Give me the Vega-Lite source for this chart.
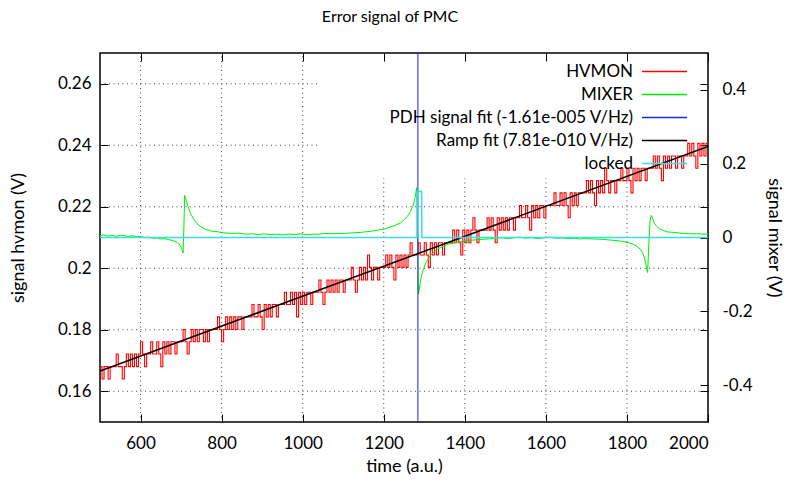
{
"$schema": "https://vega.github.io/schema/vega-lite/v6.json",
"width": 608, "height": 369,
"autosize": {"type": "none"},
"padding": {"left": 100, "top": 53, "right": 77, "bottom": 66},
"background": "white",
"title": {"text": "Error signal of PMC", "fontSize": 16, "fontWeight": "normal", "font": "Lato", "color": "#000", "anchor": "middle", "dx": -14, "offset": 28},
"config": {
 "font": "Lato",
 "view": {"stroke": "#000", "strokeWidth": 1.5},
 "axis": {"labelFont": "Lato", "labelFontSize": 17, "labelColor": "#000", "titleFont": "Lato", "titleFontSize": 18, "titleFontWeight": "normal", "titleColor": "#000", "tickColor": "#000", "tickWidth": 1, "domain": false, "grid": false}
},
"datasets": {
 "grid": [
  {"gx":500,"gx2":2000,"gy":0.16,"gy2":0.16},
  {"gx":500,"gx2":2000,"gy":0.18,"gy2":0.18},
  {"gx":500,"gx2":2000,"gy":0.2,"gy2":0.2},
  {"gx":500,"gx2":2000,"gy":0.22,"gy2":0.22},
  {"gx":500,"gx2":1040,"gy":0.24,"gy2":0.24},
  {"gx":500,"gx2":1040,"gy":0.26,"gy2":0.26},
  {"gx":600,"gx2":600,"gy":0.15,"gy2":0.27},
  {"gx":800,"gx2":800,"gy":0.15,"gy2":0.27},
  {"gx":1000,"gx2":1000,"gy":0.15,"gy2":0.27},
  {"gx":1200,"gx2":1200,"gy":0.15,"gy2":0.2292},
  {"gx":1400,"gx2":1400,"gy":0.15,"gy2":0.2292},
  {"gx":1600,"gx2":1600,"gy":0.15,"gy2":0.2292},
  {"gx":1800,"gx2":1800,"gy":0.15,"gy2":0.2292}
 ],
 "hvmon": [
  {"t":500,"v":0.168},{"t":505,"v":0.164},{"t":510,"v":0.168},{"t":515,"v":0.168},{"t":520,"v":0.164},{"t":525,"v":0.168},
  {"t":530,"v":0.168},{"t":535,"v":0.168},{"t":540,"v":0.1721},{"t":545,"v":0.168},{"t":550,"v":0.168},{"t":555,"v":0.164},{"t":560,"v":0.168},{"t":565,"v":0.1721},{"t":570,"v":0.168},{"t":575,"v":0.1721},{"t":580,"v":0.168},{"t":585,"v":0.1721},{"t":590,"v":0.168},{"t":595,"v":0.1721},{"t":600,"v":0.1761},{"t":605,"v":0.1721},{"t":610,"v":0.168},
  {"t":615,"v":0.1721},{"t":620,"v":0.1721},{"t":625,"v":0.1761},{"t":630,"v":0.1721},{"t":635,"v":0.1721},{"t":640,"v":0.1761},{"t":645,"v":0.1721},{"t":650,"v":0.168},{"t":655,"v":0.1761},{"t":660,"v":0.1721},{"t":665,"v":0.1761},{"t":670,"v":0.1721},{"t":675,"v":0.1761},{"t":680,"v":0.1761},{"t":685,"v":0.1721},{"t":690,"v":0.1761},
  {"t":695,"v":0.1761},{"t":700,"v":0.1761},{"t":705,"v":0.1801},{"t":710,"v":0.1761},{"t":715,"v":0.1721},{"t":720,"v":0.1761},{"t":725,"v":0.1801},{"t":730,"v":0.1761},{"t":735,"v":0.1801},{"t":740,"v":0.1761},{"t":745,"v":0.1801},{"t":750,"v":0.1801},{"t":755,"v":0.1761},{"t":760,"v":0.1801},{"t":765,"v":0.1761},{"t":770,"v":0.1801},{"t":775,"v":0.1801},
  {"t":780,"v":0.1801},{"t":785,"v":0.1801},{"t":790,"v":0.1842},{"t":795,"v":0.1801},{"t":800,"v":0.1761},{"t":805,"v":0.1801},{"t":810,"v":0.1842},{"t":815,"v":0.1801},{"t":820,"v":0.1842},{"t":825,"v":0.1801},{"t":830,"v":0.1842},{"t":835,"v":0.1801},{"t":840,"v":0.1842},{"t":845,"v":0.1842},{"t":850,"v":0.1801},{"t":855,"v":0.1842},{"t":860,"v":0.1842},
  {"t":865,"v":0.1842},{"t":870,"v":0.1842},{"t":875,"v":0.1882},{"t":880,"v":0.1842},{"t":885,"v":0.1842},{"t":890,"v":0.1882},{"t":895,"v":0.1842},{"t":900,"v":0.1801},{"t":905,"v":0.1882},{"t":910,"v":0.1842},{"t":915,"v":0.1882},{"t":920,"v":0.1842},{"t":925,"v":0.1882},{"t":930,"v":0.1882},{"t":935,"v":0.1842},{"t":940,"v":0.1882},
  {"t":945,"v":0.1882},{"t":950,"v":0.1882},{"t":955,"v":0.1922},{"t":960,"v":0.1882},{"t":965,"v":0.1882},{"t":970,"v":0.1922},{"t":975,"v":0.1882},{"t":980,"v":0.1922},{"t":985,"v":0.1842},{"t":990,"v":0.1922},{"t":995,"v":0.1882},{"t":1000,"v":0.1922},{"t":1005,"v":0.1882},{"t":1010,"v":0.1922},{"t":1015,"v":0.1922},{"t":1020,"v":0.1882},{"t":1025,"v":0.1922},
  {"t":1030,"v":0.1922},{"t":1035,"v":0.1922},{"t":1040,"v":0.1962},{"t":1045,"v":0.1922},{"t":1050,"v":0.1882},{"t":1055,"v":0.1922},{"t":1060,"v":0.1962},{"t":1065,"v":0.1922},{"t":1070,"v":0.1962},{"t":1075,"v":0.1922},{"t":1080,"v":0.1962},{"t":1085,"v":0.1922},{"t":1090,"v":0.1962},{"t":1095,"v":0.1962},{"t":1100,"v":0.1922},{"t":1105,"v":0.1962},
  {"t":1110,"v":0.1962},{"t":1115,"v":0.1962},{"t":1120,"v":0.2003},{"t":1125,"v":0.1962},{"t":1130,"v":0.1922},{"t":1135,"v":0.1962},{"t":1140,"v":0.2003},{"t":1145,"v":0.1962},{"t":1150,"v":0.2003},{"t":1155,"v":0.1962},{"t":1160,"v":0.2043},{"t":1165,"v":0.2003},{"t":1170,"v":0.1962},{"t":1175,"v":0.2003},{"t":1180,"v":0.2003},{"t":1185,"v":0.1962},{"t":1190,"v":0.2003},
  {"t":1195,"v":0.2003},{"t":1200,"v":0.2003},{"t":1205,"v":0.2043},{"t":1210,"v":0.2003},{"t":1215,"v":0.2043},{"t":1220,"v":0.2003},{"t":1225,"v":0.1962},{"t":1230,"v":0.2043},{"t":1235,"v":0.2003},{"t":1240,"v":0.2043},{"t":1245,"v":0.2003},{"t":1250,"v":0.2043},{"t":1255,"v":0.2003},{"t":1260,"v":0.2043},{"t":1265,"v":0.2083},{"t":1270,"v":0.2043},
  {"t":1275,"v":0.2043},{"t":1280,"v":0.2043},{"t":1285,"v":0.2083},{"t":1290,"v":0.2043},{"t":1295,"v":0.2043},{"t":1300,"v":0.2083},{"t":1305,"v":0.2043},{"t":1310,"v":0.2003},{"t":1315,"v":0.2083},{"t":1320,"v":0.2043},{"t":1325,"v":0.2083},{"t":1330,"v":0.2043},{"t":1335,"v":0.2083},{"t":1340,"v":0.2083},{"t":1345,"v":0.2043},{"t":1350,"v":0.2083},{"t":1355,"v":0.2083},
  {"t":1360,"v":0.2083},{"t":1365,"v":0.2083},{"t":1370,"v":0.2124},{"t":1375,"v":0.2083},{"t":1380,"v":0.2124},{"t":1385,"v":0.2083},{"t":1390,"v":0.2043},{"t":1395,"v":0.2124},{"t":1400,"v":0.2083},{"t":1405,"v":0.2124},{"t":1410,"v":0.2083},{"t":1415,"v":0.2124},{"t":1420,"v":0.2164},{"t":1425,"v":0.2124},{"t":1430,"v":0.2083},{"t":1435,"v":0.2124},{"t":1440,"v":0.2124},
  {"t":1445,"v":0.2124},{"t":1450,"v":0.2124},{"t":1455,"v":0.2164},{"t":1460,"v":0.2124},{"t":1465,"v":0.2164},{"t":1470,"v":0.2124},{"t":1475,"v":0.2083},{"t":1480,"v":0.2164},{"t":1485,"v":0.2124},{"t":1490,"v":0.2164},{"t":1495,"v":0.2124},{"t":1500,"v":0.2164},{"t":1505,"v":0.2124},{"t":1510,"v":0.2164},{"t":1515,"v":0.2164},{"t":1520,"v":0.2124},
  {"t":1525,"v":0.2164},{"t":1530,"v":0.2164},{"t":1535,"v":0.2204},{"t":1540,"v":0.2164},{"t":1545,"v":0.2164},{"t":1550,"v":0.2204},{"t":1555,"v":0.2164},{"t":1560,"v":0.2124},{"t":1565,"v":0.2204},{"t":1570,"v":0.2164},{"t":1575,"v":0.2204},{"t":1580,"v":0.2164},{"t":1585,"v":0.2204},{"t":1590,"v":0.2204},{"t":1595,"v":0.2164},{"t":1600,"v":0.2204},{"t":1605,"v":0.2204},
  {"t":1610,"v":0.2204},{"t":1615,"v":0.2204},{"t":1620,"v":0.2245},{"t":1625,"v":0.2204},{"t":1630,"v":0.2204},{"t":1635,"v":0.2245},{"t":1640,"v":0.2204},{"t":1645,"v":0.2245},{"t":1650,"v":0.2204},{"t":1655,"v":0.2164},{"t":1660,"v":0.2245},{"t":1665,"v":0.2204},{"t":1670,"v":0.2245},{"t":1675,"v":0.2204},{"t":1680,"v":0.2245},{"t":1685,"v":0.2245},
  {"t":1690,"v":0.2245},{"t":1695,"v":0.2245},{"t":1700,"v":0.2285},{"t":1705,"v":0.2245},{"t":1710,"v":0.2285},{"t":1715,"v":0.2245},{"t":1720,"v":0.2204},{"t":1725,"v":0.2285},{"t":1730,"v":0.2245},{"t":1735,"v":0.2285},{"t":1740,"v":0.2245},{"t":1745,"v":0.2325},{"t":1750,"v":0.2285},{"t":1755,"v":0.2245},{"t":1760,"v":0.2285},{"t":1765,"v":0.2285},{"t":1770,"v":0.2245},
  {"t":1775,"v":0.2285},{"t":1780,"v":0.2285},{"t":1785,"v":0.2325},{"t":1790,"v":0.2285},{"t":1795,"v":0.2285},{"t":1800,"v":0.2325},{"t":1805,"v":0.2285},{"t":1810,"v":0.2245},{"t":1815,"v":0.2325},{"t":1820,"v":0.2285},{"t":1825,"v":0.2325},{"t":1830,"v":0.2285},{"t":1835,"v":0.2325},{"t":1840,"v":0.2325},{"t":1845,"v":0.2285},{"t":1850,"v":0.2325},
  {"t":1855,"v":0.2325},{"t":1860,"v":0.2325},{"t":1865,"v":0.2365},{"t":1870,"v":0.2325},{"t":1875,"v":0.2365},{"t":1880,"v":0.2325},{"t":1885,"v":0.2285},{"t":1890,"v":0.2365},{"t":1895,"v":0.2325},{"t":1900,"v":0.2365},{"t":1905,"v":0.2325},{"t":1910,"v":0.2365},{"t":1915,"v":0.2365},{"t":1920,"v":0.2325},{"t":1925,"v":0.2365},{"t":1930,"v":0.2365},{"t":1935,"v":0.2325},
  {"t":1940,"v":0.2365},{"t":1945,"v":0.2365},{"t":1950,"v":0.2406},{"t":1955,"v":0.2365},{"t":1960,"v":0.2406},{"t":1965,"v":0.2365},{"t":1970,"v":0.2325},{"t":1975,"v":0.2406},{"t":1980,"v":0.2365},{"t":1985,"v":0.2406},{"t":1990,"v":0.2365},{"t":1995,"v":0.2406},{"t":2000,"v":0.2406}
 ],
 "ramp": [{"t":500,"v":0.1666},{"t":2000,"v":0.2396}],
 "mixer": [
  {"t":500,"v":0.005},{"t":510,"v":0.007},{"t":520,"v":0.004},{"t":530,"v":0.006},{"t":540,"v":0.003},{"t":550,"v":0.006},{"t":560,"v":0.005},{"t":570,"v":0.003},{"t":580,"v":0.005},{"t":590,"v":0.002},{"t":600,"v":0.003},{"t":610,"v":0.0},{"t":620,"v":0.001},{"t":630,"v":-0.002},{"t":640,"v":-0.001},{"t":650,"v":-0.004},{"t":660,"v":-0.003},{"t":670,"v":-0.006},{"t":680,"v":-0.008},{"t":688,"v":-0.012},{"t":694,"v":-0.016},{"t":698,"v":-0.022},{"t":701,"v":-0.029},{"t":703,"v":-0.035},{"t":705,"v":-0.042},{"t":707,"v":0.03},{"t":709,"v":0.114},{"t":713,"v":0.1},{"t":717,"v":0.085},{"t":721,"v":0.072},{"t":725,"v":0.062},{"t":733,"v":0.046},{"t":740,"v":0.037},{"t":748,"v":0.03},{"t":760,"v":0.022},{"t":770,"v":0.019},{"t":780,"v":0.016},{"t":790,"v":0.016},{"t":800,"v":0.013},{"t":815,"v":0.012},{"t":830,"v":0.011},{"t":845,"v":0.012},{"t":860,"v":0.009},{"t":875,"v":0.01},{"t":890,"v":0.008},{"t":905,"v":0.01},{"t":920,"v":0.008},{"t":935,"v":0.009},{"t":950,"v":0.007},{"t":965,"v":0.009},{"t":980,"v":0.008},{"t":995,"v":0.01},{"t":1010,"v":0.008},{"t":1025,"v":0.009},{"t":1040,"v":0.009},{"t":1055,"v":0.011},{"t":1070,"v":0.01},{"t":1085,"v":0.011},{"t":1100,"v":0.011},{"t":1115,"v":0.012},{"t":1130,"v":0.013},{"t":1145,"v":0.014},{"t":1160,"v":0.016},{"t":1175,"v":0.018},{"t":1190,"v":0.021},{"t":1205,"v":0.024},{"t":1218,"v":0.029},{"t":1230,"v":0.034},{"t":1242,"v":0.04},{"t":1252,"v":0.05},{"t":1260,"v":0.06},{"t":1266,"v":0.07},{"t":1271,"v":0.083},{"t":1275,"v":0.097},{"t":1278,"v":0.112},{"t":1281,"v":0.135},{"t":1283,"v":0.05},{"t":1285,"v":-0.12},{"t":1286,"v":-0.153},{"t":1290,"v":-0.122},{"t":1294,"v":-0.1},{"t":1298,"v":-0.085},{"t":1305,"v":-0.066},{"t":1315,"v":-0.049},{"t":1325,"v":-0.038},{"t":1340,"v":-0.027},{"t":1360,"v":-0.018},{"t":1385,"v":-0.012},{"t":1410,"v":-0.008},{"t":1440,"v":-0.005},{"t":1470,"v":-0.003},{"t":1490,"v":0.0},{"t":1505,"v":-0.003},{"t":1520,"v":-0.001},{"t":1535,"v":0.001},{"t":1550,"v":-0.002},{"t":1565,"v":0.0},{"t":1580,"v":-0.003},{"t":1595,"v":-0.001},{"t":1610,"v":0.001},{"t":1625,"v":-0.002},{"t":1640,"v":-0.001},{"t":1655,"v":-0.003},{"t":1670,"v":-0.002},{"t":1685,"v":-0.004},{"t":1700,"v":-0.003},{"t":1720,"v":-0.004},{"t":1740,"v":-0.005},{"t":1760,"v":-0.007},{"t":1780,"v":-0.009},{"t":1800,"v":-0.013},{"t":1815,"v":-0.018},{"t":1825,"v":-0.024},{"t":1833,"v":-0.032},{"t":1838,"v":-0.04},{"t":1842,"v":-0.051},{"t":1845,"v":-0.064},{"t":1848,"v":-0.08},{"t":1851,"v":-0.095},{"t":1854,"v":-0.02},{"t":1857,"v":0.045},{"t":1860,"v":0.06},{"t":1864,"v":0.05},{"t":1868,"v":0.038},{"t":1874,"v":0.03},{"t":1880,"v":0.024},{"t":1890,"v":0.019},{"t":1900,"v":0.015},{"t":1915,"v":0.014},{"t":1930,"v":0.012},{"t":1945,"v":0.011},{"t":1960,"v":0.01},{"t":1975,"v":0.01},{"t":1990,"v":0.009},{"t":2000,"v":0.009}
 ],
 "pdh": [{"t":1284.3,"v":-0.5},{"t":1284.31,"v":0.5}],
 "locked": [{"t":500,"v":0},{"t":1282,"v":0},{"t":1282.4,"v":0.125},{"t":1293.6,"v":0.125},{"t":1294,"v":0},{"t":2000,"v":0}]
},
"layer": [
 {
  "data": {"name": "grid"},
  "mark": {"type": "rule", "color": "#444", "strokeDash": [1, 3.5], "strokeWidth": 1},
  "encoding": {
   "x": {"field": "gx", "type": "quantitative", "scale": {"domain": [500, 2000], "nice": false, "zero": false}, "axis": null},
   "x2": {"field": "gx2"},
   "y": {"field": "gy", "type": "quantitative", "scale": {"domain": [0.15, 0.27], "nice": false, "zero": false},
         "axis": {"orient": "right", "values": [0.16, 0.18, 0.2, 0.22, 0.24, 0.26], "labels": false, "tickSize": -8, "title": null}},
   "y2": {"field": "gy2"}
  }
 },
 {
  "data": {"name": "hvmon"},
  "mark": {"type": "line", "strokeWidth": 1.1, "interpolate": "step-after", "clip": true},
  "encoding": {
   "x": {"field": "t", "type": "quantitative", "scale": {"domain": [500, 2000], "nice": false, "zero": false},
         "axis": {"orient": "bottom", "values": [600, 800, 1000, 1200, 1400, 1600, 1800, 2000], "format": "d", "tickSize": -8, "labelPadding": 21, "title": "time (a.u.)", "titleY": 44, "titleBaseline": "middle"}},
   "y": {"field": "v", "type": "quantitative", "scale": {"domain": [0.15, 0.27], "nice": false, "zero": false},
         "axis": {"orient": "left", "values": [0.16, 0.18, 0.2, 0.22, 0.24, 0.26], "format": "~g", "tickSize": -8, "labelPadding": 17, "title": "signal hvmon (V)", "titleX": -82, "titleY": 184.5, "titleAngle": -90, "titleAlign": "center", "titleBaseline": "middle"}},
   "color": {"datum": "HVMON", "type": "nominal",
     "scale": {"domain": ["HVMON", "MIXER", "PDH signal fit (-1.61e-005 V/Hz)", "Ramp fit (7.81e-010 V/Hz)", "locked"], "range": ["#ff0000", "#00ee00", "#2222ee", "#000000", "#33e0f0"]},
     "legend": {"orient": "none", "legendX": 556, "legendY": 10, "title": null, "symbolType": "M-3.75,0H3.75", "symbolSize": 144, "symbolStrokeWidth": 1.5, "labelFontSize": 17, "labelFont": "Lato", "labelColor": "#000", "labelAlign": "right", "labelOffset": -40, "labelLimit": 500, "rowPadding": 5, "padding": 0, "offset": 0}}
  }
 },
 {
  "data": {"name": "mixer"},
  "mark": {"type": "line", "strokeWidth": 1, "clip": true},
  "encoding": {
   "x": {"field": "t", "type": "quantitative", "scale": {"domain": [500, 2000], "nice": false, "zero": false},
         "axis": {"orient": "top", "values": [600, 800, 1000, 1200, 1400, 1600, 1800, 2000], "labels": false, "tickSize": -8, "title": null}},
   "y": {"field": "v", "type": "quantitative", "scale": {"domain": [-0.5, 0.5], "nice": false, "zero": false},
         "axis": {"orient": "right", "values": [-0.4, -0.2, 0, 0.2, 0.4], "labelExpr": "datum.value < 0 ? '-' + format(-datum.value, '~g') : format(datum.value, '~g')", "tickSize": -8, "labelPadding": 22, "title": "signal mixer (V)", "titleX": 65, "titleY": 184.5, "titleAngle": 90, "titleAlign": "center", "titleBaseline": "middle"}},
   "color": {"datum": "MIXER", "type": "nominal"}
  }
 },
 {
  "data": {"name": "pdh"},
  "mark": {"type": "line", "strokeWidth": 1, "clip": true},
  "encoding": {
   "x": {"field": "t", "type": "quantitative", "scale": {"domain": [500, 2000], "nice": false, "zero": false}, "axis": null},
   "y": {"field": "v", "type": "quantitative", "scale": {"domain": [-0.5, 0.5], "nice": false, "zero": false}, "axis": null},
   "color": {"datum": "PDH signal fit (-1.61e-005 V/Hz)", "type": "nominal"}
  }
 },
 {
  "data": {"name": "ramp"},
  "mark": {"type": "line", "strokeWidth": 1.5, "clip": true},
  "encoding": {
   "x": {"field": "t", "type": "quantitative", "scale": {"domain": [500, 2000], "nice": false, "zero": false}, "axis": null},
   "y": {"field": "v", "type": "quantitative", "scale": {"domain": [0.15, 0.27], "nice": false, "zero": false}, "axis": null},
   "color": {"datum": "Ramp fit (7.81e-010 V/Hz)", "type": "nominal"}
  }
 },
 {
  "data": {"name": "locked"},
  "mark": {"type": "line", "strokeWidth": 1.5, "clip": true},
  "encoding": {
   "x": {"field": "t", "type": "quantitative", "scale": {"domain": [500, 2000], "nice": false, "zero": false}, "axis": null},
   "y": {"field": "v", "type": "quantitative", "scale": {"domain": [-0.5, 0.5], "nice": false, "zero": false}, "axis": null},
   "color": {"datum": "locked", "type": "nominal"}
  }
 }
],
"resolve": {"scale": {"y": "independent"}, "axis": {"x": "independent", "y": "independent"}}
}
